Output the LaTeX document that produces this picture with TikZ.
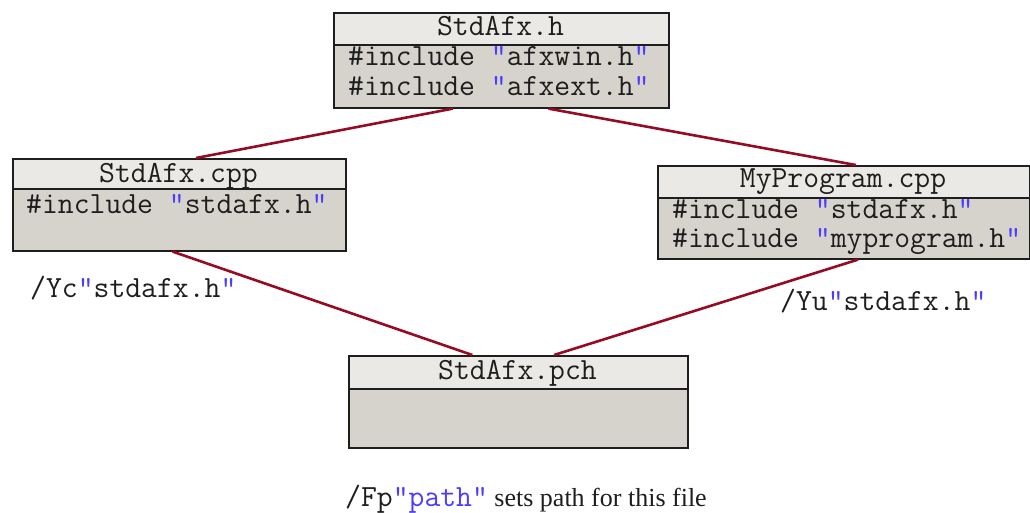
\documentclass[tikz,border=0pt]{standalone}
\usepackage{fontspec}
\setmainfont{Liberation Serif}
\usetikzlibrary{calc}
\definecolor{hdrfill}{RGB}{235,233,229}
\definecolor{bdyfill}{RGB}{214,211,204}
\definecolor{boxline}{RGB}{30,30,30}
\definecolor{connred}{RGB}{150,10,35}
\definecolor{qblue}{RGB}{75,60,255}
\definecolor{txt}{RGB}{30,30,30}
\newcommand\myq[1]{\textcolor{qblue}{"}#1\textcolor{qblue}{"}}
\tikzset{
  hdr/.style={draw=boxline, fill=hdrfill, line width=1.6pt, inner sep=0pt, anchor=north west},
  bdy/.style={draw=boxline, fill=bdyfill, line width=1.6pt, inner sep=0pt, anchor=north west},
  code/.style={inner sep=0pt, anchor=base west, text=txt, font=\fontsize{30.8}{30}\selectfont\ttfamily},
  ctitle/.style={inner sep=0pt, anchor=base, text=txt, font=\fontsize{30.8}{30}\selectfont\ttfamily},
  conn/.style={draw=connred, line width=2.6pt}
}
\begin{document}
\begin{tikzpicture}[x=1pt,y=-1pt]
\path[use as bounding box] (0,0) rectangle (1030,512);
% StdAfx.h
\node[bdy, minimum width=335pt, minimum height=63pt] (hB) at (333,44) {};
\node[hdr, minimum width=335pt, minimum height=32pt] (hH) at (333,12) {};
\node[ctitle] (hT) at (500.5,35) {StdAfx.h};
\node[code] (hL1) at (348,65) {\#include \myq{afxwin.h}};
\node[code] (hL2) at (348,95) {\#include \myq{afxext.h}};
% StdAfx.cpp
\node[bdy, minimum width=333pt, minimum height=62pt] (cB) at (12,188) {};
\node[hdr, minimum width=333pt, minimum height=30pt] (cH) at (12,158) {};
\node[ctitle] (cT) at (178.5,182) {StdAfx.cpp};
\node[code] (cL1) at (26,213) {\#include \myq{stdafx.h}};
% MyProgram.cpp
\node[bdy, minimum width=372pt, minimum height=61pt] (mB) at (657,197) {};
\node[hdr, minimum width=372pt, minimum height=32pt] (mH) at (657,165) {};
\node[ctitle] (mT) at (843,187) {MyProgram.cpp};
\node[code] (mL1) at (672,218) {\#include \myq{stdafx.h}};
\node[code] (mL2) at (672,247) {\#include \myq{myprogram.h}};
% StdAfx.pch
\node[bdy, minimum width=339pt, minimum height=59pt] (pB) at (348,388) {};
\node[hdr, minimum width=339pt, minimum height=33pt] (pH) at (348,355) {};
\node[ctitle] (pT) at (517.5,379) {StdAfx.pch};
% connectors
\draw[conn] ($(hB.south west)!0.356!(hB.south east)$) -- ($(cH.north west)!0.55!(cH.north east)$);
\draw[conn] ($(hB.south west)!0.64!(hB.south east)$) -- ($(mH.north west)!0.532!(mH.north east)$);
\draw[conn] ($(cB.south west)!0.48!(cB.south east)$) -- ($(pH.north west)!0.365!(pH.north east)$);
\draw[conn] ($(mB.south west)!0.538!(mB.south east)$) -- ($(pH.north west)!0.605!(pH.north east)$);
% labels
\node[code] (yc) at (30,297) {/Yc\myq{stdafx.h}};
\node[code] (yu) at (780,310) {/Yu\myq{stdafx.h}};
\node[code] (fp) at (345,506) {/Fp\myq{\textcolor{qblue}{path}}{\rmfamily\fontsize{26}{30}\selectfont\ sets path for this file}};
\end{tikzpicture}
\end{document}
